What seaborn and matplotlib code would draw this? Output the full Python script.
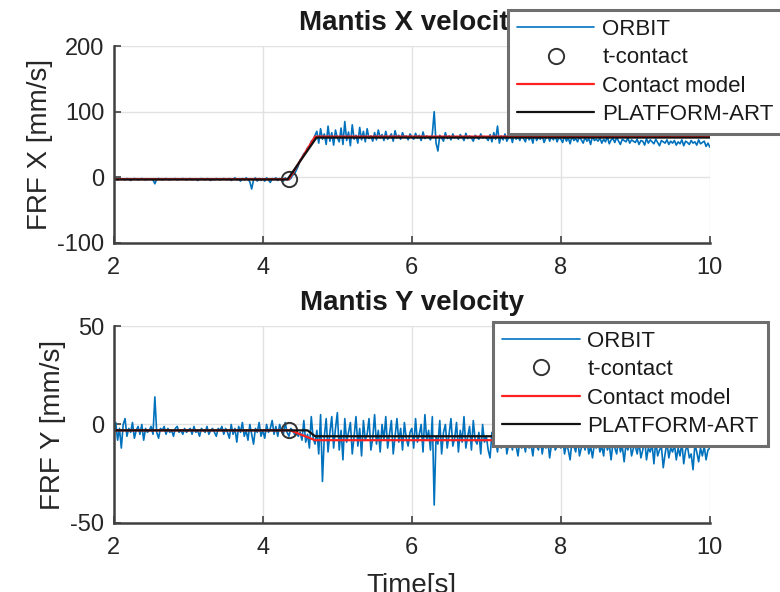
import numpy as np
import pandas as pd
import matplotlib
matplotlib.use("Agg")
import matplotlib.pyplot as plt
import seaborn as sns

# ORBIT measurements, sampled every 0.025 s from 2 s to 10 s (one row = 0.5 s)
orbit_x = [
    -2, -3, -4, -2, -3, -3, -4, -2, -3, -5, -3, -2, -3, -4, -3, -2, -3, -4, -3, -3,
    -3, -4, -10, -3, -2, -3, -4, -3, -2, -3, -4, -3, -3, -2, -4, -3, -3, -2, -3, -4,
    -3, -2, -4, -3, -3, -5, -3, -2, -3, -4, -2, -3, -5, -3, -4, -2, -3, -4, -3, -2,
    -3, -4, -2, -5, -3, -1, -4, -3, -6, -2, -4, -1, -3, -7, -18, -4, -1, -6, -2, -5,
    -2, -6, -1, -4, -8, -2, -3, -1, -5, -2, -4, -6, -1, -3, -4, -2, 3, 5, 11, 17,
    26, 30, 36, 38, 45, 47, 55, 57, 64, 70, 52, 74, 58, 66, 50, 78, 55, 68, 49, 72,
    60, 54, 75, 50, 85, 56, 69, 48, 80, 58, 64, 52, 76, 57, 70, 54, 74, 59, 63, 55,
    68, 57, 72, 60, 65, 56, 70, 58, 62, 66, 55, 71, 60, 64, 58, 68, 61, 63, 57, 66,
    62, 58, 67, 60, 64, 56, 69, 59, 63, 61, 57, 66, 100, 52, 40, 64, 60, 55, 68, 59,
    63, 57, 66, 60, 62, 58, 65, 61, 56, 67, 59, 63, 60, 55, 64, 61, 58, 66, 60, 62,
    60, 56, 65, 54, 68, 58, 78, 52, 63, 57, 66, 55, 61, 64, 53, 67, 58, 62, 56, 65,
    59, 54, 66, 57, 62, 52, 68, 56, 61, 58, 64, 53, 60, 65, 55, 62, 57, 63, 54, 61,
    58, 53, 64, 55, 60, 51, 63, 56, 59, 54, 62, 57, 52, 61, 55, 59, 50, 63, 56, 58,
    55, 60, 52, 58, 54, 62, 51, 57, 59, 53, 61, 55, 50, 58, 56, 54, 60, 52, 57, 55,
    53, 58, 50, 56, 55, 49, 59, 52, 57, 54, 51, 58, 53, 48, 56, 54, 52, 57, 50, 55,
    52, 56, 49, 54, 51, 57, 48, 55, 53, 50, 56, 52, 54, 49, 57, 51, 53, 55, 47, 52,
    46,
]
orbit_y = [
    -5, 1, -8, -2, -12, 0, 3, -6, -2, -4, 1, -7, -3, -1, -5, 0, -8, -2, -4, -3,
    -1, -5, 14, -4, -7, -2, -3, -1, -5, -2, -4, -3, -6, -2, -1, -4, -3, -5, -2, -4,
    -3, -2, -5, -1, -4, -3, -6, -2, -3, -4, -1, -5, -3, -2, -4, -6, -2, -3, -1, -5,
    -2, -4, -7, 0, -5, -2, -9, -1, -4, 1, -6, -3, -8, 0, -5, -10, -2, -4, 1, -6,
    -3, -7, 0, -4, -2, 2, -5, -1, -6, 0, -3, -5, 1, -4, -6, -2, -3, -5, -4, -6,
    -4, -8, 2, -9, -5, -12, 4, -7, -10, -3, -15, 5, -29, -6, 3, -14, -4, 4, -12, -2,
    6, -13, -3, -18, 3, -9, -4, 1, -15, -6, 4, -11, -2, -16, 2, -8, -5, 3, -13, -7,
    5, -10, -3, -14, 0, -8, 4, -12, -5, 2, -15, -6, 3, -9, -2, -13, 1, -7, -11, -4,
    -2, -12, 3, -9, -5, 0, -14, 5, -8, -3, -13, 4, -41, -6, -10, 2, -15, -4, 0, -12,
    -5, 3, -11, -7, 1, -14, -3, -9, 4, -12, -6, -1, -13, 2, -8, -10, -4, -15, 0, -9,
    -6, -13, -17, -4, -11, -8, -14, -5, -12, -9, -3, -15, -10, -7, -13, -6, -11, -16, -8, -12,
    -9, -14, -6, -12, -10, -16, -7, -11, -13, -5, -15, -9, -12, -8, -17, -10, -6, -13, -11, -9,
    -12, -7, -15, -10, -13, -18, -8, -11, -14, -6, -16, -12, -9, -13, -7, -15, -11, -17, -10, -12,
    -8, -14, -11, -16, -6, -13, -10, -18, -9, -12, -15, -7, -14, -11, -19, -10, -13, -8, -16, -12,
    -11, -15, -9, -17, -13, -7, -18, -12, -14, -10, -20, -8, -16, -13, -11, -22, -15, -9, -17, -12,
    -14, -10, -18, -12, -16, -9, -20, -13, -11, -17, -15, -23, -10, -14, -19, -12, -16, -11, -18, -13,
    -12,
]
time_s = np.round(2 + 0.025 * np.arange(len(orbit_x)), 3)

# contact model and platform breakpoints
model_x_t = [2, 4.35, 4.7, 10]
model_x_v = [-3, -3, 62, 62]
art_x_t = [2, 4.33, 4.72, 10]
art_x_v = [-3.5, -3.5, 60.5, 60.5]
model_y_t = [2, 4.37, 4.7, 10]
model_y_v = [-3, -3, -8, -8]
art_y_t = [2, 4.6, 4.7, 10]
art_y_v = [-3, -3, -6, -6]
t_contact = 4.35
contact_x = -3
contact_y = -3

df = pd.DataFrame({"Time": time_s, "X": orbit_x, "Y": orbit_y})

sns.set_style("ticks")
plt.rcParams["font.family"] = ["Liberation Sans", "DejaVu Sans"]
plt.rcParams["text.color"] = "#1a1a1a"
plt.rcParams["axes.unicode_minus"] = False

blue = "#0072BD"
axis_col = "#404040"

fig = plt.figure(figsize=(7.8, 5.92), dpi=100)
ax1 = fig.add_axes([0.146, 0.590, 0.764, 0.332])
ax2 = fig.add_axes([0.146, 0.117, 0.764, 0.332])

panels = [
    (ax1, "X", model_x_t, model_x_v, art_x_t, art_x_v, contact_x,
     "Mantis X velocity", "FRF X [mm/s]", (-100, 200), [-100, 0, 100, 200],
     (0.651, 0.983)),
    (ax2, "Y", model_y_t, model_y_v, art_y_t, art_y_v, contact_y,
     "Mantis Y velocity", "FRF Y [mm/s]", (-50, 50), [-50, 0, 50],
     (0.632, 0.456)),
]

for ax, col, mt, mv, at, av, cv, title, ylab, ylim, yticks, leg_pos in panels:
    sns.lineplot(data=df, x="Time", y=col, ax=ax, color=blue, lw=1.2,
                 estimator=None, label="ORBIT")
    ax.plot([t_contact], [cv], "o", mfc="none", mec="#333333", ms=11, mew=1.4,
            label="t-contact")
    sns.lineplot(x=mt, y=mv, ax=ax, color="#ff2020", lw=1.6, estimator=None,
                 label="Contact model")
    sns.lineplot(x=at, y=av, ax=ax, color="#111111", lw=1.6, estimator=None,
                 label="PLATFORM-ART")

    ax.set_xlim(2, 10)
    ax.set_ylim(*ylim)
    ax.set_xticks([2, 4, 6, 8, 10])
    ax.set_yticks(yticks)
    ax.grid(True, color="#e2e2e2", lw=1)
    ax.set_axisbelow(True)
    sns.despine(ax=ax)
    for side in ["left", "bottom"]:
        ax.spines[side].set_color(axis_col)
        ax.spines[side].set_linewidth(1.8)
    ax.tick_params(direction="in", length=5, width=1.2, color=axis_col,
                   labelsize=17, labelcolor="#262626")
    ax.tick_params(axis="x", pad=10)
    ax.tick_params(axis="y", pad=7)
    ax.set_title(title, fontsize=20, fontweight="bold", pad=12)
    ax.set_ylabel(ylab, fontsize=20, color="#262626", labelpad=3)
    ax.set_xlabel("")

    leg = ax.legend(loc="upper left", bbox_to_anchor=leg_pos,
                    bbox_transform=fig.transFigure, fontsize=16,
                    handlelength=3.5, handletextpad=0.35, labelspacing=0.33,
                    borderpad=0.4, borderaxespad=0, fancybox=False,
                    framealpha=1, edgecolor="#6e6e6e")
    leg.get_frame().set_linewidth(2.2)

# the reference cuts this label at the lower edge of the figure
ax2.set_xlabel("Time[s]", fontsize=20, color="#262626", labelpad=10)

fig.savefig("out.png", dpi=100)
